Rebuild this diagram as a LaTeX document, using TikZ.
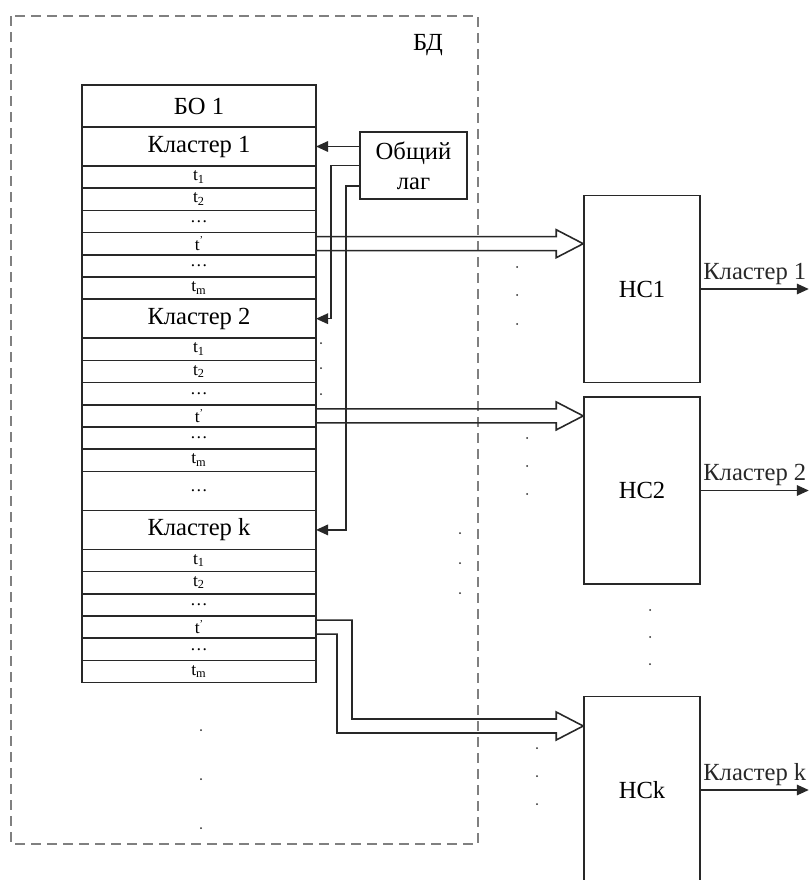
\documentclass[tikz,border=0pt]{standalone}
\usepackage{fontspec}
\setmainfont{Liberation Serif}
\usetikzlibrary{arrows.meta, positioning, calc}
\definecolor{framegray}{RGB}{128,128,128}
\definecolor{linegray}{RGB}{40,40,40}

\begin{document}
\begin{tikzpicture}[
  x=0.2mm, y=-0.2mm,
  font=\fontsize{14}{16}\selectfont,
  cell/.style={rectangle, draw=linegray, line width=0.9pt, minimum width=46.8mm,
    inner sep=0pt, outer sep=0pt},
  headrow/.style={cell, minimum height=8.4mm},
  clrow/.style={cell, minimum height=7.8mm},
  trow/.style={cell, minimum height=4.44mm, font=\fontsize{10}{10}\selectfont},
  nsbox/.style={rectangle, draw=linegray, line width=0.9pt, minimum width=23.2mm,
    minimum height=37.4mm},
  arr/.style={-{Triangle[length=2.4mm, width=2.1mm]}, linegray, line width=0.9pt},
  fatline/.style={linegray, line width=0.9pt},
  fat/.style={to path={($(\tikztostart)+(0,1.4mm)$) -- ($(\tikztotarget)+(-5.4mm,1.4mm)$)
      -- ++(0,1.4mm) -- (\tikztotarget) -- ++(-5.4mm,-2.8mm) -- ++(0,1.4mm)
      -- ($(\tikztostart)+(0,-1.4mm)$)}},
  frame/.style={draw=framegray, line width=1.2pt, dash pattern=on 2mm off 1.2mm}
]
\useasboundingbox (0,0) rectangle (809,880);

% database frame
\draw[frame] (11,16) rectangle (478,844);
\node (bd) at (428,45) {БД};

% table
\node[headrow] (bo) at (199,106) {БО 1};
\node[clrow, below=0pt of bo] (c1) {Кластер 1};
\node[trow, below=0pt of c1] (c1a) {t\textsubscript{1}};
\node[trow, below=0pt of c1a] (c1b) {t\textsubscript{2}};
\node[trow, below=0pt of c1b] (c1c) {\dots};
\node[trow, below=0pt of c1c] (c1p) {t\raisebox{0.8ex}{\fontsize{6}{6}\selectfont '}};
\node[trow, below=0pt of c1p] (c1d) {\dots};
\node[trow, below=0pt of c1d] (c1m) {t\textsubscript{m}};
\node[clrow, below=0pt of c1m] (c2) {Кластер 2};
\node[trow, below=0pt of c2] (c2a) {t\textsubscript{1}};
\node[trow, below=0pt of c2a] (c2b) {t\textsubscript{2}};
\node[trow, below=0pt of c2b] (c2c) {\dots};
\node[trow, below=0pt of c2c] (c2p) {t\raisebox{0.8ex}{\fontsize{6}{6}\selectfont '}};
\node[trow, below=0pt of c2p] (c2d) {\dots};
\node[trow, below=0pt of c2d] (c2m) {t\textsubscript{m}};
\node[clrow, below=0pt of c2m, font=\fontsize{10}{10}\selectfont] (gap) {\dots};
\node[clrow, below=0pt of gap] (ck) {Кластер k};
\node[trow, below=0pt of ck] (cka) {t\textsubscript{1}};
\node[trow, below=0pt of cka] (ckb) {t\textsubscript{2}};
\node[trow, below=0pt of ckb] (ckc) {\dots};
\node[trow, below=0pt of ckc] (ckp) {t\raisebox{0.8ex}{\fontsize{6}{6}\selectfont '}};
\node[trow, below=0pt of ckp] (ckd) {\dots};
\node[trow, below=0pt of ckd] (ckm) {t\textsubscript{m}};

% common lag
\node[draw=linegray, line width=0.9pt, minimum width=21.4mm, minimum height=13.4mm,
  align=center, inner sep=1pt, font=\fontsize{14}{17}\selectfont] (lag) at (413.5,165.5) {Общий\\лаг};
\draw[arr] (c1.east -| lag.west) -- (c1.east);
\draw[arr] (lag.west) -- ++(-5.6mm,0) |- (c2.east);
\draw[arr] ([yshift=-4.1mm]lag.west) -- ++(-2.6mm,0) |- (ck.east);

% networks
\node[nsbox] (hc1) at (642,289) {НС1};
\node[nsbox] (hc2) at (642,490.5) {НС2};
\node[nsbox] (hck) at (642,790) {НСk};
\coordinate (tipk) at ([yshift=12.8mm]hck.west);

\draw[fatline] (c1p.east) to[fat] (c1p.east -| hc1.west);
\draw[fatline] (c2p.east) to[fat] (c2p.east -| hc2.west);
\draw[fatline] ($(ckp.east)+(0,1.4mm)$) -- ++(7.2mm,0)
  |- ($(tipk)+(-5.4mm,1.4mm)$) -- ++(0,1.4mm) -- (tipk) -- ++(-5.4mm,-2.8mm)
  -- ++(0,1.4mm) -| ($(ckp.east)+(4.2mm,-1.4mm)$) -- ($(ckp.east)+(0,-1.4mm)$);

\draw[arr] (hc1.east) -- ++(21.6mm,0) node[midway, above, inner sep=2pt] (out1) {Кластер 1};
\draw[arr] (hc2.east) -- ++(21.6mm,0) node[midway, above, inner sep=2pt] (out2) {Кластер 2};
\draw[arr] (hck.east) -- ++(21.6mm,0) node[midway, above, inner sep=2pt] (outk) {Кластер k};

% dots
\fill[linegray] (321,343) circle (0.2mm) (321,368) circle (0.2mm) (321,394) circle (0.2mm)
  (517,267) circle (0.2mm) (517,295) circle (0.2mm) (517,324) circle (0.2mm)
  (527,438) circle (0.2mm) (527,466) circle (0.2mm) (527,494) circle (0.2mm)
  (460,533) circle (0.2mm) (460,563) circle (0.2mm) (460,593) circle (0.2mm)
  (650,610) circle (0.2mm) (650,637) circle (0.2mm) (650,664) circle (0.2mm)
  (537,748) circle (0.2mm) (537,776) circle (0.2mm) (537,804) circle (0.2mm)
  (201,730) circle (0.2mm) (201,779) circle (0.2mm) (201,828) circle (0.2mm);
\end{tikzpicture}
\end{document}
